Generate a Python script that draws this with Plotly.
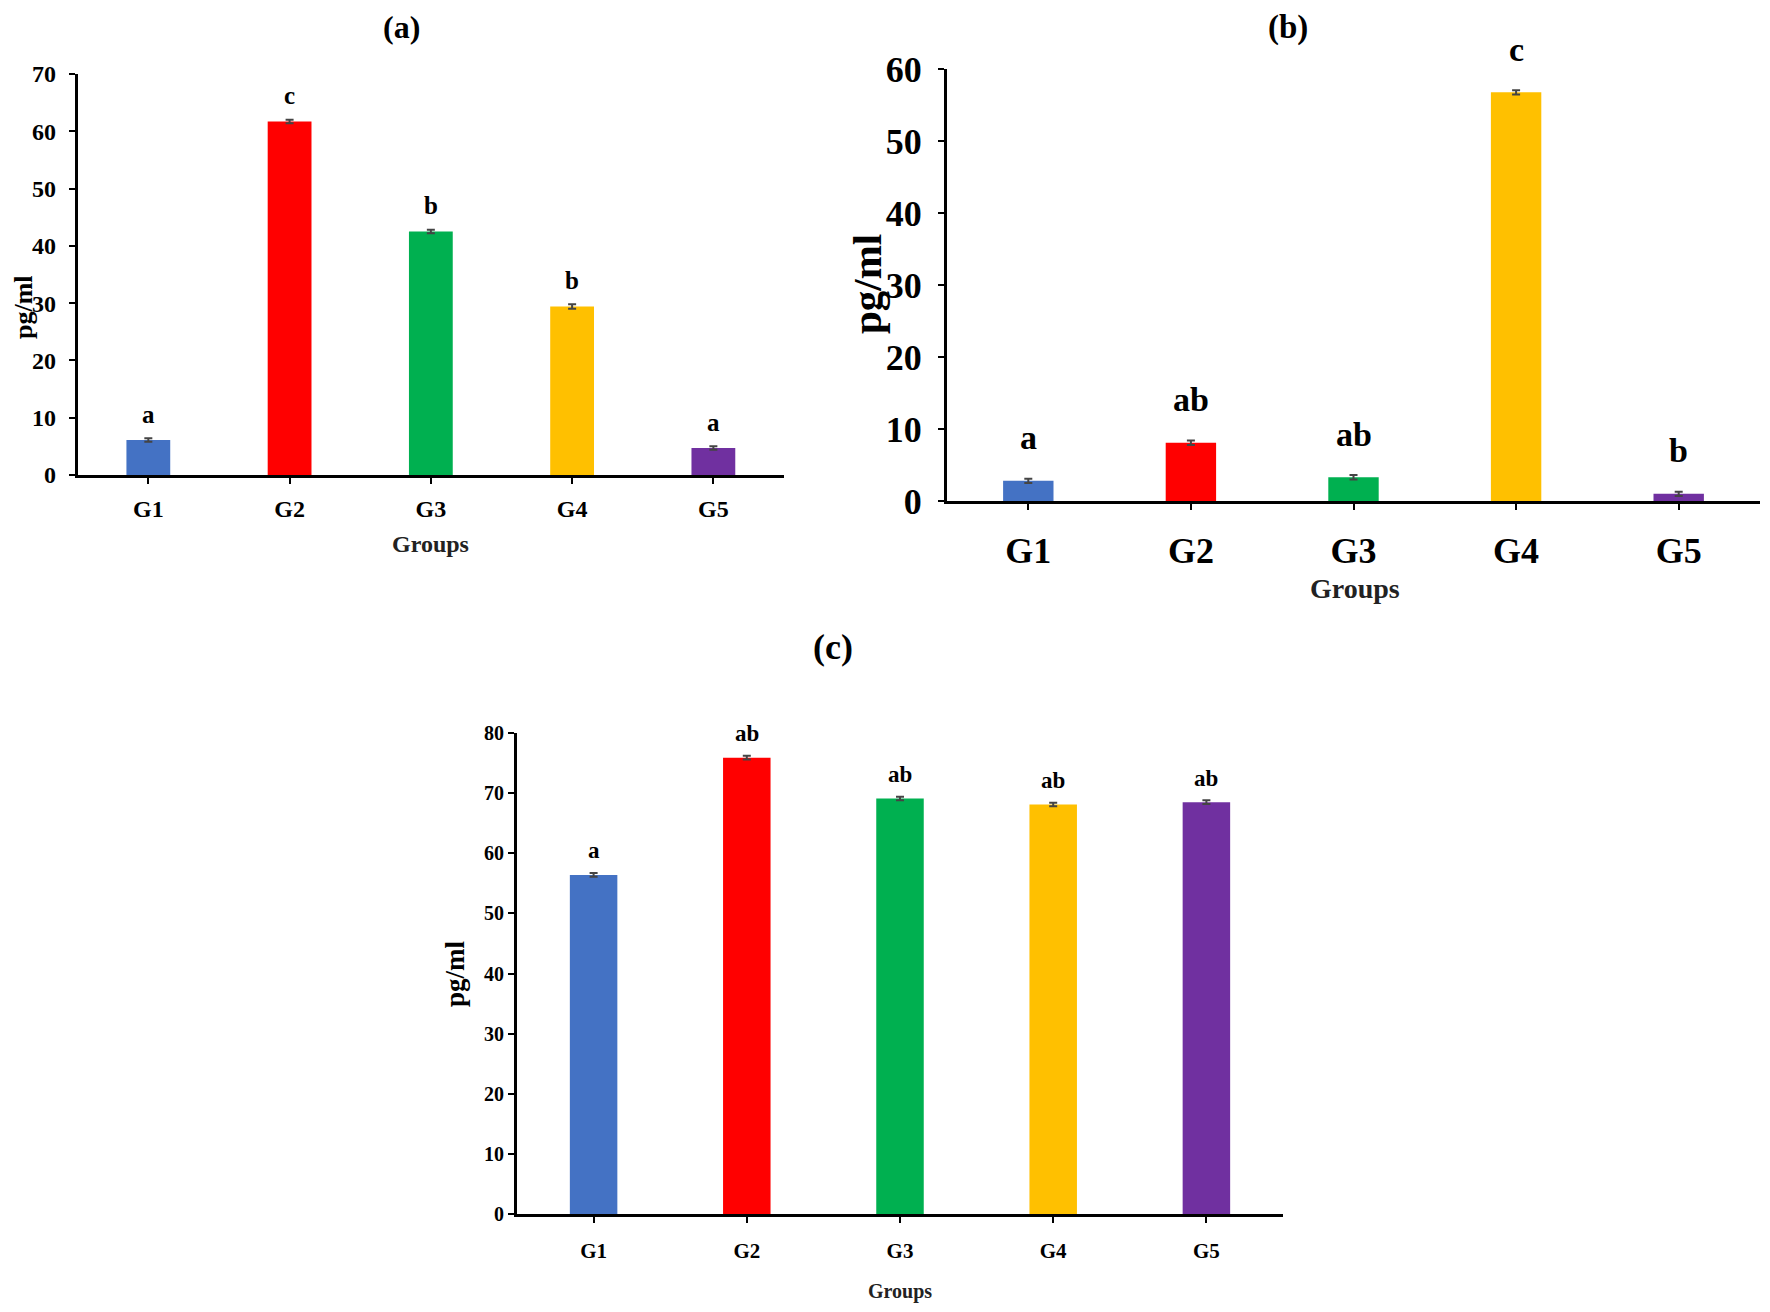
import plotly.graph_objects as go

# ---------------- data ----------------
groups = ["G1", "G2", "G3", "G4", "G5"]
colors = ["#4472C4", "#FF0000", "#00B050", "#FFC000", "#7030A0"]

values_a = [6.1, 61.7, 42.5, 29.4, 4.7]
errors_a = [0.3, 0.3, 0.3, 0.4, 0.3]
letters_a = ["a", "c", "b", "b", "a"]

values_b = [2.8, 8.1, 3.3, 56.8, 1.0]
errors_b = [0.3, 0.3, 0.3, 0.3, 0.3]
letters_b = ["a", "ab", "ab", "c", "b"]

values_c = [56.4, 75.9, 69.1, 68.1, 68.5]
errors_c = [0.3, 0.3, 0.3, 0.3, 0.3]
letters_c = ["a", "ab", "ab", "ab", "ab"]

FONT = "Liberation Serif, Times New Roman, serif"
PAGE_PAD = 8                      # default body margin of the html page
W, H = 1770 - 2 * PAGE_PAD, 1312 - 2 * PAGE_PAD


def px(xpix):
    return (xpix - PAGE_PAD) / W


def py(ypix):
    return 1 - (ypix - PAGE_PAD) / H


panels = [
    dict(sfx="", vals=values_a, errs=errors_a, lets=letters_a,
         xd=[px(77.7), px(784)], yd=[py(475), py(74)], yr=70,
         tick_fs=24, gx_fs=24, let_fs=25, ystand=8, xstand=4, shift=26,
         title="(a)", tpos=(401, 8), tanchor="top", ttl_fs=32,
         ytitle_pos=(24, 307), ytitle_fs=26, xtitle_pos=(430, 544), xtitle_fs=24),
    dict(sfx="2", vals=values_b, errs=errors_b, lets=letters_b,
         xd=[px(947), px(1760)], yd=[py(501), py(69.3)], yr=60,
         tick_fs=36, gx_fs=36, let_fs=34, ystand=9, xstand=10, shift=43,
         title="(b)", tpos=(1288, 8), tanchor="top", ttl_fs=33,
         ytitle_pos=(867, 284), ytitle_fs=41, xtitle_pos=(1355, 588), xtitle_fs=28),
    dict(sfx="3", vals=values_c, errs=errors_c, lets=letters_c,
         xd=[px(517), px(1283)], yd=[py(1214), py(733)], yr=80,
         tick_fs=20, gx_fs=21, let_fs=23, ystand=0, xstand=10, shift=24,
         title="(c)", tpos=(833, 647), tanchor="middle", ttl_fs=36,
         ytitle_pos=(455, 973), ytitle_fs=27, xtitle_pos=(900, 1291), xtitle_fs=20),
]

fig = go.Figure()
annotations = []
layout_axes = {}

for p in panels:
    s = p["sfx"]
    fig.add_trace(go.Bar(
        x=groups, y=p["vals"], width=0.31,
        marker=dict(color=colors, line=dict(width=0)),
        error_y=dict(type="data", array=p["errs"], visible=True,
                     color="#444444", thickness=2, width=4),
        xaxis="x" + s, yaxis="y" + s, showlegend=False,
    ))
    layout_axes["xaxis" + s] = dict(
        domain=p["xd"], anchor="y" + s, type="category", automargin=False,
        range=[-0.5, 4.5], showline=True, linecolor="black", linewidth=3,
        ticks="outside", ticklen=6, tickwidth=2, tickcolor="black",
        showgrid=False, zeroline=False, fixedrange=True,
        tickfont=dict(family=FONT, size=p["gx_fs"], color="black", weight="bold"),
        ticklabelstandoff=p["xstand"],
    )
    layout_axes["yaxis" + s] = dict(
        domain=p["yd"], anchor="x" + s, range=[0, p["yr"]], dtick=10, automargin=False,
        showline=True, linecolor="black", linewidth=3,
        ticks="outside", ticklen=6, tickwidth=2, tickcolor="black",
        showgrid=False, zeroline=False, fixedrange=True,
        tickfont=dict(family=FONT, size=p["tick_fs"], color="black", weight="bold"),
        ticklabelstandoff=p["ystand"],
    )
    # significance letters above each bar
    for g, v, t in zip(groups, p["vals"], p["lets"]):
        annotations.append(dict(
            x=g, y=v, xref="x" + s, yref="y" + s, text=t, yshift=p["shift"],
            showarrow=False, yanchor="middle",
            font=dict(family=FONT, size=p["let_fs"], color="black", weight="bold"),
        ))
    # panel title
    annotations.append(dict(
        x=px(p["tpos"][0]), y=py(p["tpos"][1]), xref="paper", yref="paper",
        text=p["title"], showarrow=False, xanchor="center", yanchor=p["tanchor"],
        borderpad=0,
        font=dict(family=FONT, size=p["ttl_fs"], color="black", weight="bold"),
    ))
    # y title
    annotations.append(dict(
        x=px(p["ytitle_pos"][0]), y=py(p["ytitle_pos"][1]),
        xref="paper", yref="paper", text="pg/ml", textangle=-90,
        showarrow=False, xanchor="center", yanchor="middle",
        font=dict(family=FONT, size=p["ytitle_fs"], color="black", weight="bold"),
    ))
    # x title
    annotations.append(dict(
        x=px(p["xtitle_pos"][0]), y=py(p["xtitle_pos"][1]),
        xref="paper", yref="paper", text="Groups",
        showarrow=False, xanchor="center", yanchor="middle",
        font=dict(family=FONT, size=p["xtitle_fs"], color="#222222", weight="bold"),
    ))

fig.update_layout(
    width=W, height=H,
    margin=dict(l=0, r=0, t=0, b=0, pad=0, autoexpand=False),
    paper_bgcolor="white", plot_bgcolor="white",
    annotations=annotations,
    **layout_axes,
)

fig.write_html("out.html")
